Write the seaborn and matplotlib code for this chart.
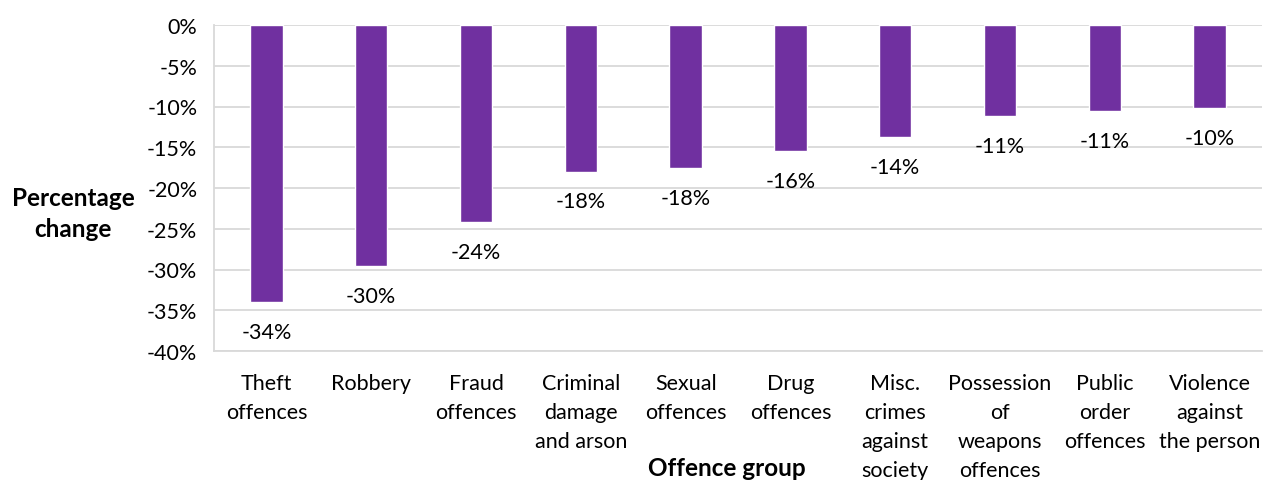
import matplotlib
matplotlib.use("Agg")
import matplotlib.pyplot as plt
import seaborn as sns
import pandas as pd
from matplotlib.ticker import FuncFormatter

categories = [
    "Theft\noffences", "Robbery", "Fraud\noffences", "Criminal\ndamage\nand arson",
    "Sexual\noffences", "Drug\noffences", "Misc.\ncrimes\nagainst\nsociety",
    "Possession\nof\nweapons\noffences", "Public\norder\noffences",
    "Violence\nagainst\nthe person",
]
values = [-34.0, -29.6, -24.2, -18.0, -17.6, -15.5, -13.8, -11.2, -10.6, -10.2]
labels = ["-34%", "-30%", "-24%", "-18%", "-18%", "-16%", "-14%", "-11%", "-11%", "-10%"]
yticks = [0, -5, -10, -15, -20, -25, -30, -35, -40]

sns.set_theme(style="white")
plt.rcParams["font.family"] = ["Lato", "DejaVu Sans"]
plt.rcParams["text.color"] = "black"

df = pd.DataFrame({"group": categories, "change": values})

fig = plt.figure(figsize=(12.63, 4.81), dpi=100)
ax = fig.add_axes([214 / 1263, 1 - 352 / 481, (1262 - 214) / 1263, (352 - 26) / 481])

sns.barplot(data=df, x="group", y="change", color="#7030A0", width=0.31,
            saturation=1, ax=ax, zorder=3)

ax.set_ylim(-40, 0)
ax.set_yticks(yticks)
ax.yaxis.set_major_formatter(FuncFormatter(lambda v, _: f"{v:.0f}%"))
ax.grid(axis="y", color="#d9d9d9", linewidth=1.3, zorder=0)
ax.grid(axis="x", visible=False)
for side in ["top", "right"]:
    ax.spines[side].set_visible(False)
for side in ["left", "bottom"]:
    ax.spines[side].set_color("#d9d9d9")
    ax.spines[side].set_linewidth(1.3)
ax.tick_params(axis="both", length=0, labelsize=15.5, colors="black")
ax.tick_params(axis="x", pad=16)
ax.tick_params(axis="y", pad=12)
for t in ax.get_xticklabels():
    t.set_linespacing(1.55)
ax.set_xlabel("")
ax.set_ylabel("")

for i, (v, lab) in enumerate(zip(values, labels)):
    ax.annotate(lab, xy=(i, v), xytext=(0, -14), textcoords="offset points",
                ha="center", va="top", fontsize=15.5, color="black")

fig.text(73 / 1263, 1 - 214 / 481, "Percentage\nchange", ha="center", va="center",
         fontsize=17.5, fontweight="bold", linespacing=1.4, color="black")
fig.text(727 / 1263, 1 - 469 / 481, "Offence group", ha="center", va="center",
         fontsize=17.5, fontweight="bold", color="black")

fig.savefig("out.png", dpi=100)
